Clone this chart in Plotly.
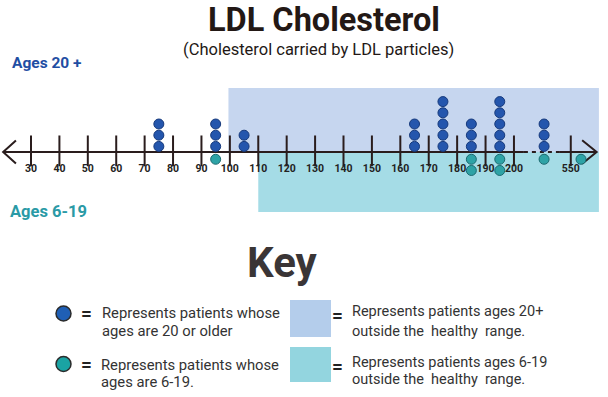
import plotly.graph_objects as go

# ---------------- data ----------------
tick_positions = [30, 40, 50, 60, 70, 80, 90, 100, 110, 120, 130, 140, 150,
                  160, 170, 180, 190, 200, 220]
tick_labels = ["30", "40", "50", "60", "70", "80", "90", "100", "110", "120",
               "130", "140", "150", "160", "170", "180", "190", "200", "550"]

# column positions on the number line (axis units; 210.6 and 223.6 lie in the broken part)
column_positions = [75, 95, 105, 165, 175, 185, 195, 210.6, 223.6]
adult_counts = [3, 3, 2, 3, 5, 3, 5, 3, 0]   # ages 20+
child_counts = [0, 1, 0, 0, 0, 2, 2, 1, 1]   # ages 6-19

adult_limit = 100   # healthy upper limit, ages 20+
child_limit = 110   # healthy upper limit, ages 6-19

W, H = 608, 397
X_RANGE = [19.09, 233.1]
Y_RANGE = [-21.875, 13.571]

def px(x):
    return x / W

def py(y):
    return 1 - y / H

LINE_C = "#2a1d1d"
BLUE = "#2456ad"
BLUE_EDGE = "#173a7c"
TEAL = "#2ea3a6"
TEAL_EDGE = "#1b6a70"

fig = go.Figure()

# regions outside healthy range
fig.add_shape(type="rect", xref="x", yref="y", x0=adult_limit - 0.5, x1=229.9,
              y0=0, y1=5.71, fillcolor="#c6d6ef", line_width=0, layer="below")
fig.add_shape(type="rect", xref="x", yref="y", x0=child_limit, x1=229.9,
              y0=-5.36, y1=0, fillcolor="#a5dce6", line_width=0, layer="below")

# number line
fig.add_trace(go.Scatter(x=[20.3, 203.5], y=[0, 0], mode="lines",
                         line=dict(color=LINE_C, width=2), hoverinfo="skip"))
fig.add_trace(go.Scatter(x=[203.5, 216.2], y=[0, 0], mode="lines",
                         line=dict(color=LINE_C, width=2, dash="4px,4px"), hoverinfo="skip"))
fig.add_trace(go.Scatter(x=[216.2, 229.0], y=[0, 0], mode="lines",
                         line=dict(color=LINE_C, width=2), hoverinfo="skip"))
# arrow heads
fig.add_trace(go.Scatter(x=[24.7, 20.2, 24.7], y=[1.03, 0, -1.03], mode="lines",
                         line=dict(color=LINE_C, width=2), hoverinfo="skip"))
fig.add_trace(go.Scatter(x=[224.0, 229.1, 224.0], y=[1.05, 0, -1.05], mode="lines",
                         line=dict(color=LINE_C, width=2), hoverinfo="skip"))

# ticks
fig.add_trace(go.Scatter(x=tick_positions, y=[0.1] * len(tick_positions), mode="markers",
                         marker=dict(symbol="line-ns", size=22,
                                     line=dict(color=LINE_C, width=2)),
                         hoverinfo="skip"))
fig.add_trace(go.Scatter(x=tick_positions, y=[-1.55] * len(tick_positions), mode="text",
                         text=["<b>" + t + "</b>" for t in tick_labels],
                         textfont=dict(family="Roboto", size=10.5, color="#222222"),
                         hoverinfo="skip"))

# dots
ax, ay, cx, cy = [], [], [], []
for pos, na, nc in zip(column_positions, adult_counts, child_counts):
    for k in range(na):
        ax.append(pos)
        ay.append(0.5 + k)
    for k in range(nc):
        cx.append(pos)
        cy.append(-0.65 - k)
fig.add_trace(go.Scatter(x=ax, y=ay, mode="markers",
                         marker=dict(size=10, color=BLUE, line=dict(color=BLUE_EDGE, width=1)),
                         hoverinfo="skip"))
fig.add_trace(go.Scatter(x=cx, y=cy, mode="markers",
                         marker=dict(size=10, color=TEAL, line=dict(color=TEAL_EDGE, width=1)),
                         hoverinfo="skip"))

ann = []
def text(x, y, s, size, color="#333333", xanchor="left", bold=False, **kw):
    if bold:
        s = "<b>" + s + "</b>"
    d = dict(x=px(x), y=py(y), xref="paper", yref="paper", text=s,
             showarrow=False, xanchor=xanchor, yanchor="middle",
             font=dict(family="Roboto", size=size, color=color))
    d.update(kw)
    ann.append(d)

text(324, 0, "LDL Cholesterol", 32.5, color="#231815", xanchor="center", bold=True,
     yanchor="top", borderpad=0)
text(318, 38.5, "(Cholesterol carried by LDL particles)", 16.5, color="#231815",
     xanchor="center", yanchor="top", borderpad=0)
text(10, 63, "Ages 20 +", 15.5, color="#1f4ea3", bold=True)
text(8, 212, "Ages 6-19", 16.5, color="#2a9aa6", bold=True)
text(282, 262, "Key", 42, color="#3a3536", xanchor="center", bold=True)

# key: circles
fig.add_shape(type="circle", xref="paper", yref="paper",
              x0=px(56), x1=px(71), y0=py(321), y1=py(306),
              fillcolor="#1f5fb5", line=dict(color="#2b2b2b", width=1.5))
fig.add_shape(type="circle", xref="paper", yref="paper",
              x0=px(56), x1=px(71), y0=py(371.5), y1=py(356.5),
              fillcolor="#1aa3a3", line=dict(color="#2b2b2b", width=1.5))
# key: rectangles
fig.add_shape(type="rect", xref="paper", yref="paper",
              x0=px(290), x1=px(331), y0=py(337), y1=py(300),
              fillcolor="#b4cdeb", line_width=0)
fig.add_shape(type="rect", xref="paper", yref="paper",
              x0=px(290), x1=px(331), y0=py(382), y1=py(347),
              fillcolor="#93d5df", line_width=0)

for yy in (313, 364):
    text(87, yy, "=", 19, color="#222222", xanchor="center", bold=True)
for yy in (315, 366):
    text(337, yy, "=", 19, color="#222222", xanchor="center", bold=True)

text(100, 313, "Represents patients whose", 14.8)
text(100, 331, "ages are 20 or older", 14.8)
text(99, 365, "Represents patients whose", 14.8)
text(99, 382, "ages are 6-19.", 14.8)
text(350, 311, "Represents patients ages 20+", 14.5)
text(350, 331, "outside the\u00a0 healthy\u00a0 range.", 14.5)
text(350, 362, "Represents patients ages 6-19", 14.5)
text(350, 379, "outside the\u00a0 healthy\u00a0 range.", 14.5)

fig.update_layout(
    width=W, height=H,
    margin=dict(l=0, r=0, t=0, b=0),
    paper_bgcolor="white", plot_bgcolor="white",
    showlegend=False,
    xaxis=dict(range=X_RANGE, visible=False, fixedrange=True),
    yaxis=dict(range=Y_RANGE, visible=False, fixedrange=True),
    annotations=ann,
)

fig.write_html("out.html",
               config={"displayModeBar": False},
               post_script="document.body.style.margin='0';document.body.style.padding='0';")
